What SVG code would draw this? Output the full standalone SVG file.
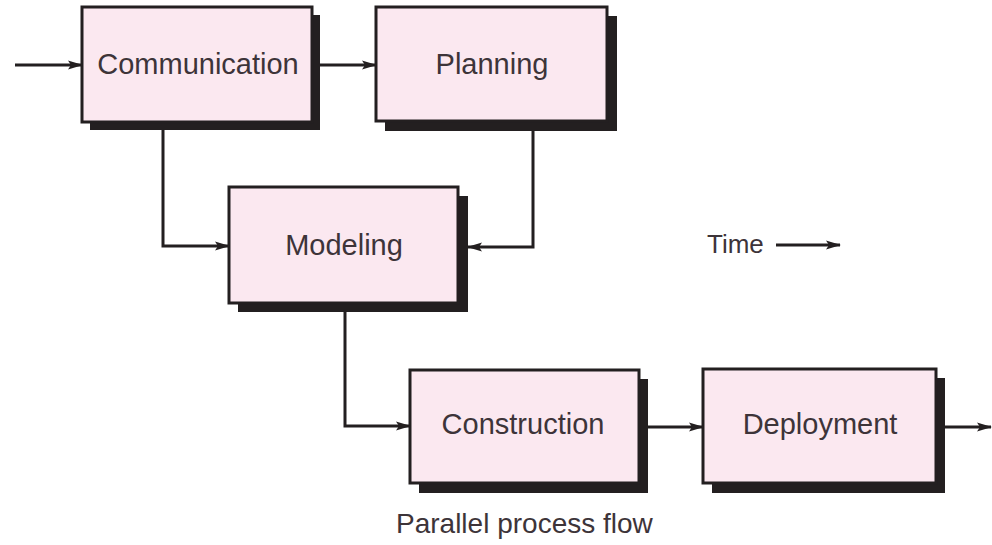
<svg xmlns="http://www.w3.org/2000/svg" width="992" height="545" viewBox="0 0 992 545">
<defs>
<style>
.shadow{fill:#231f20}
.box{fill:#fbe8f0;stroke:#231f20;stroke-width:3}
.lbl{font-family:"Liberation Sans",Arial,sans-serif;font-size:29px;fill:#3d3439;text-anchor:middle;dominant-baseline:central}
.cap{font-family:"Liberation Sans",Arial,sans-serif;font-size:28px;fill:#3d3439}
.wire{fill:none;stroke:#231f20;stroke-width:3}
</style>
<marker id="ah" markerWidth="15" markerHeight="10" refX="14" refY="5" orient="auto" markerUnits="userSpaceOnUse">
<path d="M0,0.5 L15,5 L0,9.5 L3,5 Z" fill="#231f20"/>
</marker>
</defs>
<rect width="992" height="545" fill="#ffffff"/>
<g id="connectors">
<line class="wire" x1="15" y1="65" x2="82" y2="65" marker-end="url(#ah)"/>
<line class="wire" x1="320" y1="65" x2="376" y2="65" marker-end="url(#ah)"/>
<polyline class="wire" points="163,130 163,246 229,246" marker-end="url(#ah)"/>
<polyline class="wire" points="533,131 533,247 468,247" marker-end="url(#ah)"/>
<polyline class="wire" points="345,312 345,426 410,426" marker-end="url(#ah)"/>
<line class="wire" x1="648" y1="427" x2="703" y2="427" marker-end="url(#ah)"/>
<line class="wire" x1="945" y1="427" x2="991" y2="427" marker-end="url(#ah)"/>
<line class="wire" x1="776" y1="245" x2="840" y2="245" marker-end="url(#ah)"/>
</g>
<g id="communication">
<rect class="shadow" x="90" y="15" width="230" height="115"/>
<rect class="box" x="82" y="7" width="230" height="115"/>
<text class="lbl" x="198" y="64">Communication</text>
</g>
<g id="planning">
<rect class="shadow" x="385" y="16" width="232" height="115"/>
<rect class="box" x="376" y="7" width="231" height="114"/>
<text class="lbl" x="492" y="64">Planning</text>
</g>
<g id="modeling">
<rect class="shadow" x="238" y="196" width="230" height="116"/>
<rect class="box" x="229" y="187" width="229" height="116"/>
<text class="lbl" x="344" y="245">Modeling</text>
</g>
<g id="construction">
<rect class="shadow" x="419" y="379" width="229" height="114"/>
<rect class="box" x="410" y="370" width="229" height="113"/>
<text class="lbl" x="523" y="424">Construction</text>
</g>
<g id="deployment">
<rect class="shadow" x="712" y="378" width="233" height="115"/>
<rect class="box" x="703" y="369" width="233" height="114"/>
<text class="lbl" x="820" y="424">Deployment</text>
</g>
<text class="cap" x="707" y="253" style="font-size:26px">Time</text>
<text class="cap" x="396" y="533">Parallel process flow</text>
</svg>
